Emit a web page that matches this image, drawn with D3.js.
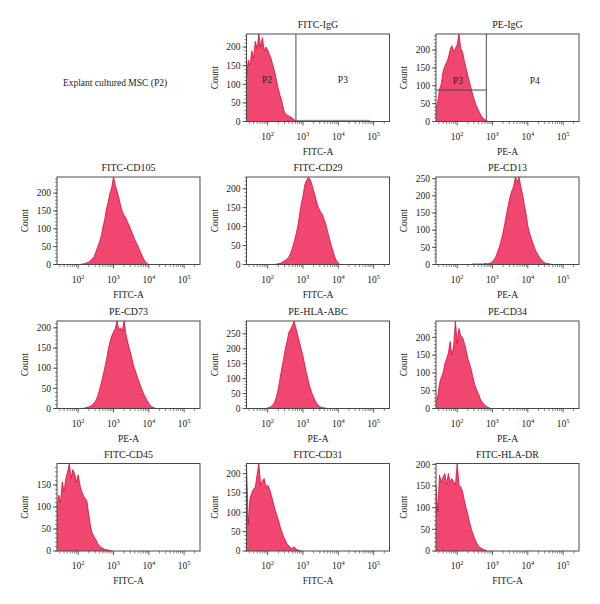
<!DOCTYPE html>
<html><head><meta charset="utf-8">
<script src="https://cdn.jsdelivr.net/npm/d3@7"></script>
<style>body{margin:0;background:#fff}svg{display:block}text{font-family:"Liberation Serif","DejaVu Serif",serif;fill:#222}</style>
</head><body><svg id="c" width="600" height="604"></svg>
<script>
// ---- data ----
const titles = ["FITC-IgG","PE-IgG","FITC-CD105","FITC-CD29","PE-CD13","PE-CD73","PE-HLA-ABC","PE-CD34","FITC-CD45","FITC-CD31","FITC-HLA-DR"];
const xLabels = ["FITC-A","PE-A","FITC-A","FITC-A","PE-A","PE-A","PE-A","PE-A","FITC-A","FITC-A","FITC-A"];
const yMax = [235,245,245,231,255,217,293,246,199,226,202];
const binStart = [1.40,1.40,2.05,2.20,2.40,2.15,1.95,1.40,1.40,1.40,1.40];
const binStep = 0.05;
const xTickExp = [2,3,4,5];
const sampleLabel = "Explant cultured MSC (P2)";

const cFitcIgG = [120,165,150,190,170,215,195,235,200,225,190,200,192,180,168,150,132,110,88,70,55,32,20,17,15,12,9,5,2,0];
const cPeIgG = [33,55,90,105,140,155,165,178,200,212,195,205,215,245,205,195,170,150,128,110,90,72,56,42,32,22,13,8,4,1,0];
const cCD105 = [0,1,2,3,5,7,11,16,22,35,48,62,78,105,125,155,175,200,215,245,222,205,188,165,148,138,130,118,108,95,83,70,60,50,38,27,16,8,3,0];
const cCD29 = [0,1,2,3,5,8,11,15,20,30,43,60,78,100,128,160,180,210,222,230,225,212,195,178,160,148,138,132,118,105,85,68,50,35,20,9,4,0];
const cCD13 = [0,2,1,2,1,2,1,2,3,2,3,5,9,14,24,38,53,72,93,120,148,175,198,215,228,255,240,255,228,205,175,148,112,92,76,60,46,35,26,18,12,7,4,3,2,1,0];
const cCD73 = [0,2,3,4,6,9,13,20,30,45,62,80,100,120,145,165,180,190,198,217,195,200,192,217,185,165,148,132,112,98,85,72,60,48,37,28,20,13,7,4,2,0];
const cHLAABC = [0,2,4,7,12,22,40,65,100,135,165,200,225,255,265,278,293,268,245,222,198,175,145,118,92,70,52,38,25,15,9,5,3,2,1,0];
const cCD34 = [19,35,70,88,100,125,140,155,188,150,175,246,183,225,205,200,185,165,140,125,108,85,66,52,42,28,19,13,8,4,2,0];
const cCD45 = [97,127,110,157,135,165,180,199,165,185,175,157,173,150,135,125,120,112,82,55,40,32,26,17,12,8,6,4,3,2,1,0];
const cCD31 = [226,67,136,150,160,165,196,226,170,180,187,166,170,161,144,128,110,95,80,64,50,36,28,18,13,8,7,11,5,3,1,0];
const cHLADR = [152,90,175,159,170,179,152,179,159,167,160,152,202,152,148,138,118,100,85,66,51,38,28,18,12,8,6,3,2,0];
const counts = [cFitcIgG,cPeIgG,cCD105,cCD29,cCD13,cCD73,cHLAABC,cCD34,cCD45,cCD31,cHLADR];

// gates (log10 x, count)
const gateFitc = {x:2.80, xEnd:4.90, yLow:3, labels:[["P2",1.98,112],["P3",4.13,112]]};
const gatePe = {x:2.825, yH:88, labels:[["P3",2.02,115],["P4",4.20,115]]};

// ---- layout ----
const colLeft = [57, 246.5, 436];
const rowTop = [34, 177, 321, 463.5];
const W = 143, H = 87.5;
const slots = [[0,1],[0,2],[1,0],[1,1],[1,2],[2,0],[2,1],[2,2],[3,0],[3,1],[3,2]];
const fillCol = "#f0466f", lineCol = "#dc0a35", frameCol = "#4a4a4a";

const svg = d3.select("#c");
svg.append("text").attr("x",115).attr("y",86).attr("text-anchor","middle")
  .attr("font-size",9.5).text(sampleLabel);

const x = d3.scaleLog().domain([Math.pow(10,1.4), Math.pow(10,5.45)]).range([0, W]);

titles.forEach((t, i) => {
  const [r, c] = slots[i];
  const g = svg.append("g").attr("transform", `translate(${colLeft[c]},${rowTop[r]})`);
  const y = d3.scaleLinear().domain([0, yMax[i]]).range([H, 0]);
  const clipId = "clip" + i;
  g.append("clipPath").attr("id", clipId).append("rect").attr("width", W).attr("height", H);

  const pts = counts[i].map((v, k) => [Math.pow(10, binStart[i] + k*binStep), v]);
  const area = d3.area().x(d => x(d[0])).y0(y(0)).y1(d => y(d[1]));
  const line = d3.line().x(d => x(d[0])).y(d => y(d[1]));
  const hg = g.append("g").attr("clip-path", `url(#${clipId})`);
  hg.append("path").datum(pts).attr("d", area).attr("fill", fillCol);
  hg.append("path").datum(pts).attr("d", line).attr("fill","none").attr("stroke", lineCol).attr("stroke-width",0.8);

  // frame
  g.append("rect").attr("width", W).attr("height", H).attr("fill","none").attr("stroke", frameCol).attr("stroke-width",1);

  // y axis
  const yTicks = d3.range(0, yMax[i] + 0.1, 50);
  const yMinor = d3.range(0, yMax[i] + 0.1, 10);
  g.selectAll(".ym").data(yMinor).join("line").attr("x1",-2).attr("x2",0)
    .attr("y1", d=>y(d)).attr("y2", d=>y(d)).attr("stroke","#333").attr("stroke-width",0.6);
  g.selectAll(".yM").data(yTicks).join("line").attr("x1",-4).attr("x2",0)
    .attr("y1", d=>y(d)).attr("y2", d=>y(d)).attr("stroke","#333").attr("stroke-width",0.8);
  g.selectAll(".yl").data(yTicks).join("text").attr("x",-6).attr("y", d=>y(d)+3.3)
    .attr("text-anchor","end").attr("font-size",9.5).text(d=>d);
  g.append("text").attr("transform", `translate(${-29},${H/2}) rotate(-90)`)
    .attr("text-anchor","middle").attr("font-size",9.5).text("Count");

  // x axis ticks
  const minor = [];
  for (let e = 1; e <= 5; e++) for (let m = 2; m <= 9; m++) {
    const v = m*Math.pow(10,e);
    if (v >= x.domain()[0] && v <= x.domain()[1]) minor.push(v);
  }
  g.selectAll(".xm").data(minor).join("line").attr("x1", d=>x(d)).attr("x2", d=>x(d))
    .attr("y1", H).attr("y2", H+2.5).attr("stroke","#333").attr("stroke-width",0.6);
  g.selectAll(".xM").data(xTickExp).join("line").attr("x1", d=>x(Math.pow(10,d))).attr("x2", d=>x(Math.pow(10,d)))
    .attr("y1", H).attr("y2", H+4).attr("stroke","#333").attr("stroke-width",0.8);
  const tl = g.selectAll(".xl").data(xTickExp).join("text")
    .attr("x", d=>x(Math.pow(10,d))).attr("y", H+18).attr("text-anchor","middle").attr("font-size",9.5);
  tl.append("tspan").text("10");
  tl.append("tspan").attr("dy",-4).attr("font-size",6.5).text(d=>d);

  g.append("text").attr("x", W/2).attr("y", H+33).attr("text-anchor","middle").attr("font-size",9.5).text(xLabels[i]);
  g.append("text").attr("x", W/2).attr("y", -6).attr("text-anchor","middle").attr("font-size",10).text(t);

  // gates
  if (i === 0) {
    const gx = x(Math.pow(10, gateFitc.x));
    g.append("line").attr("x1",gx).attr("x2",gx).attr("y1",0).attr("y2",H).attr("stroke",frameCol).attr("stroke-width",1);
    g.append("line").attr("x1",gx).attr("x2",x(Math.pow(10,gateFitc.xEnd))).attr("y1",y(gateFitc.yLow)).attr("y2",y(gateFitc.yLow))
      .attr("stroke","#666").attr("stroke-width",0.8);
    gateFitc.labels.forEach(([s,lx,ly]) => g.append("text").attr("x",x(Math.pow(10,lx))).attr("y",y(ly)+3.5)
      .attr("text-anchor","middle").attr("font-size",9.5).text(s));
  }
  if (i === 1) {
    const gx = x(Math.pow(10, gatePe.x));
    g.append("line").attr("x1",gx).attr("x2",gx).attr("y1",0).attr("y2",H).attr("stroke",frameCol).attr("stroke-width",1);
    g.append("line").attr("x1",0).attr("x2",gx).attr("y1",y(gatePe.yH)).attr("y2",y(gatePe.yH)).attr("stroke",frameCol).attr("stroke-width",1);
    gatePe.labels.forEach(([s,lx,ly]) => g.append("text").attr("x",x(Math.pow(10,lx))).attr("y",y(ly)+3.5)
      .attr("text-anchor","middle").attr("font-size",9.5).text(s));
  }
});
</script></body></html>
